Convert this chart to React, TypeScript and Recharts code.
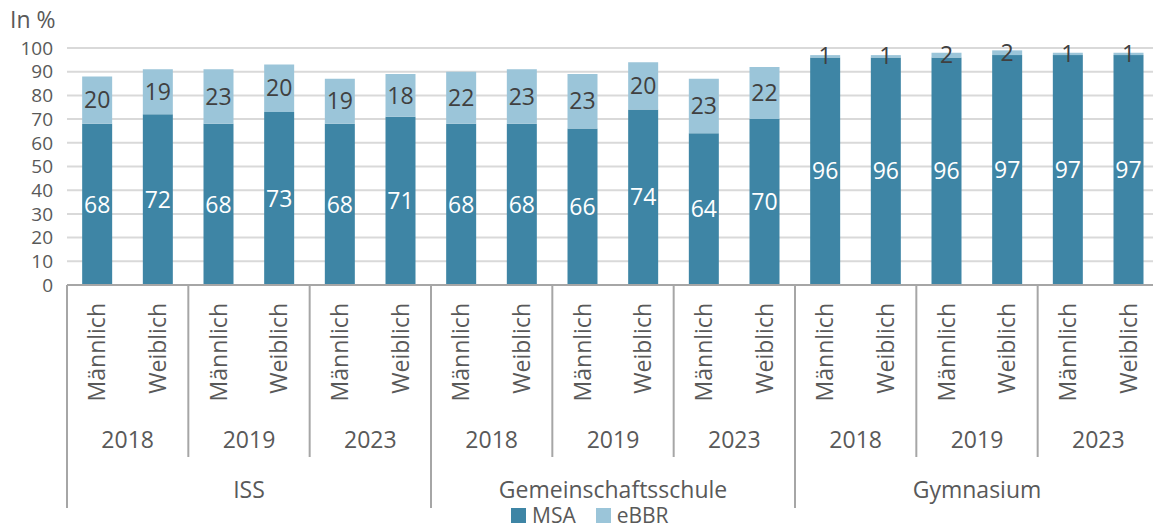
import { BarChart, Bar, XAxis, YAxis, CartesianGrid, Legend, LabelList } from 'recharts';

const schools = ['ISS', 'Gemeinschaftsschule', 'Gymnasium'];
const years = ['2018', '2019', '2023'];
const genders = ['Männlich', 'Weiblich'];
const msa = [68, 72, 68, 73, 68, 71, 68, 68, 66, 74, 64, 70, 96, 96, 96, 97, 97, 97];
const ebbr = [20, 19, 23, 20, 19, 18, 22, 23, 23, 20, 23, 22, 1, 1, 2, 2, 1, 1];
const yTicks = [0, 10, 20, 30, 40, 50, 60, 70, 80, 90, 100];

const data = msa.map((v, i) => ({
    idx: i,
    gender: genders[i % 2],
    year: years[Math.floor(i / 2) % years.length],
    school: schools[Math.floor(i / 6)],
    msa: v,
    ebbr: ebbr[i],
}));

const W = 1153;
const H = 527;
const LEFT = 67;
const RIGHT = -6;
const BAND = (W - LEFT - RIGHT) / data.length;
const FONT = '"Open Sans", sans-serif';
const TEXT = '#595959';
const LINE = '#a6a6a6';
const MSA_COLOR = '#3e85a5';
const EBBR_COLOR = '#9bc5d9';

// gender / year / school rows, drawn off the category tick
function MultiTick(props: any) {
    const { x, y, payload } = props;
    const i = payload.value as number;
    const d = data[i];
    const xl = x - BAND / 2;
    return (
        <g>
            <text
                transform={`translate(${x + 8},${y + 18}) rotate(-90)`}
                textAnchor="end"
                fontSize={23}
                fill={TEXT}
                fontFamily={FONT}
            >
                {d.gender}
            </text>
            {i % 2 === 0 && (
                <>
                    <line x1={xl} x2={xl} y1={y} y2={y + (i % 6 === 0 ? 223 : 172)} stroke={LINE} strokeWidth={2} />
                    <text x={x + BAND / 2} y={y + 163} textAnchor="middle" fontSize={23} fill={TEXT} fontFamily={FONT}>
                        {d.year}
                    </text>
                </>
            )}
            {i % 6 === 0 && (
                <text x={xl + 3 * BAND} y={y + 213} textAnchor="middle" fontSize={23} fill={TEXT} fontFamily={FONT}>
                    {d.school}
                </text>
            )}
            {i === data.length - 1 && (
                <line x1={x + BAND / 2} x2={x + BAND / 2} y1={y} y2={y + 223} stroke={LINE} strokeWidth={2} />
            )}
        </g>
    );
}

function LegendBox() {
    const items = [
        { name: 'MSA', color: MSA_COLOR },
        { name: 'eBBR', color: EBBR_COLOR },
    ];
    return (
        <div style={{ display: 'flex', alignItems: 'center', fontFamily: FONT, fontSize: 21, color: TEXT, lineHeight: '20px' }}>
            {items.map((it) => (
                <span key={it.name} style={{ display: 'flex', alignItems: 'center', marginRight: 20 }}>
                    <span style={{ width: 15, height: 15, background: it.color, marginRight: 6, display: 'inline-block' }} />
                    {it.name}
                </span>
            ))}
        </div>
    );
}

export default function App() {
    return (
        <div style={{ position: 'absolute', left: 0, top: 0, width: W, height: H, background: '#fff' }}>
            <BarChart
                width={W}
                height={H}
                data={data}
                margin={{ top: 48, right: RIGHT, bottom: 0, left: 0 }}
                barCategoryGap="25%"
                style={{ fontFamily: FONT }}
            >
                <CartesianGrid vertical={false} stroke="#d9d9d9" strokeWidth={2} />
                <XAxis
                    dataKey="idx"
                    height={242}
                    tickSize={0}
                    tickMargin={0}
                    interval={0}
                    axisLine={{ stroke: LINE, strokeWidth: 2 }}
                    tickLine={false}
                    tick={<MultiTick />}
                />
                <YAxis
                    width={LEFT}
                    domain={[0, 100]}
                    ticks={yTicks}
                    interval={0}
                    axisLine={false}
                    tickLine={false}
                    tickSize={0}
                    tickMargin={14}
                    tick={{ fill: TEXT, fontSize: 19, fontFamily: FONT }}
                    label={{
                        value: 'In %',
                        content: () => (
                            <text x={10} y={28} fontSize={23} fill={TEXT} fontFamily={FONT}>
                                In %
                            </text>
                        ),
                    }}
                />
                <Legend
                    layout="horizontal"
                    verticalAlign="middle"
                    align="center"
                    wrapperStyle={{ left: 511, top: 505, width: 'auto' }}
                    content={<LegendBox />}
                />
                <Bar dataKey="msa" name="MSA" stackId="a" fill={MSA_COLOR} isAnimationActive={false}>
                    <LabelList dataKey="msa" position="center" fill="#ffffff" fontSize={23} fontFamily={FONT} />
                </Bar>
                <Bar dataKey="ebbr" name="eBBR" stackId="a" fill={EBBR_COLOR} isAnimationActive={false}>
                    <LabelList dataKey="ebbr" position="center" fill="#404040" fontSize={23} fontFamily={FONT} />
                </Bar>
            </BarChart>
        </div>
    );
}
